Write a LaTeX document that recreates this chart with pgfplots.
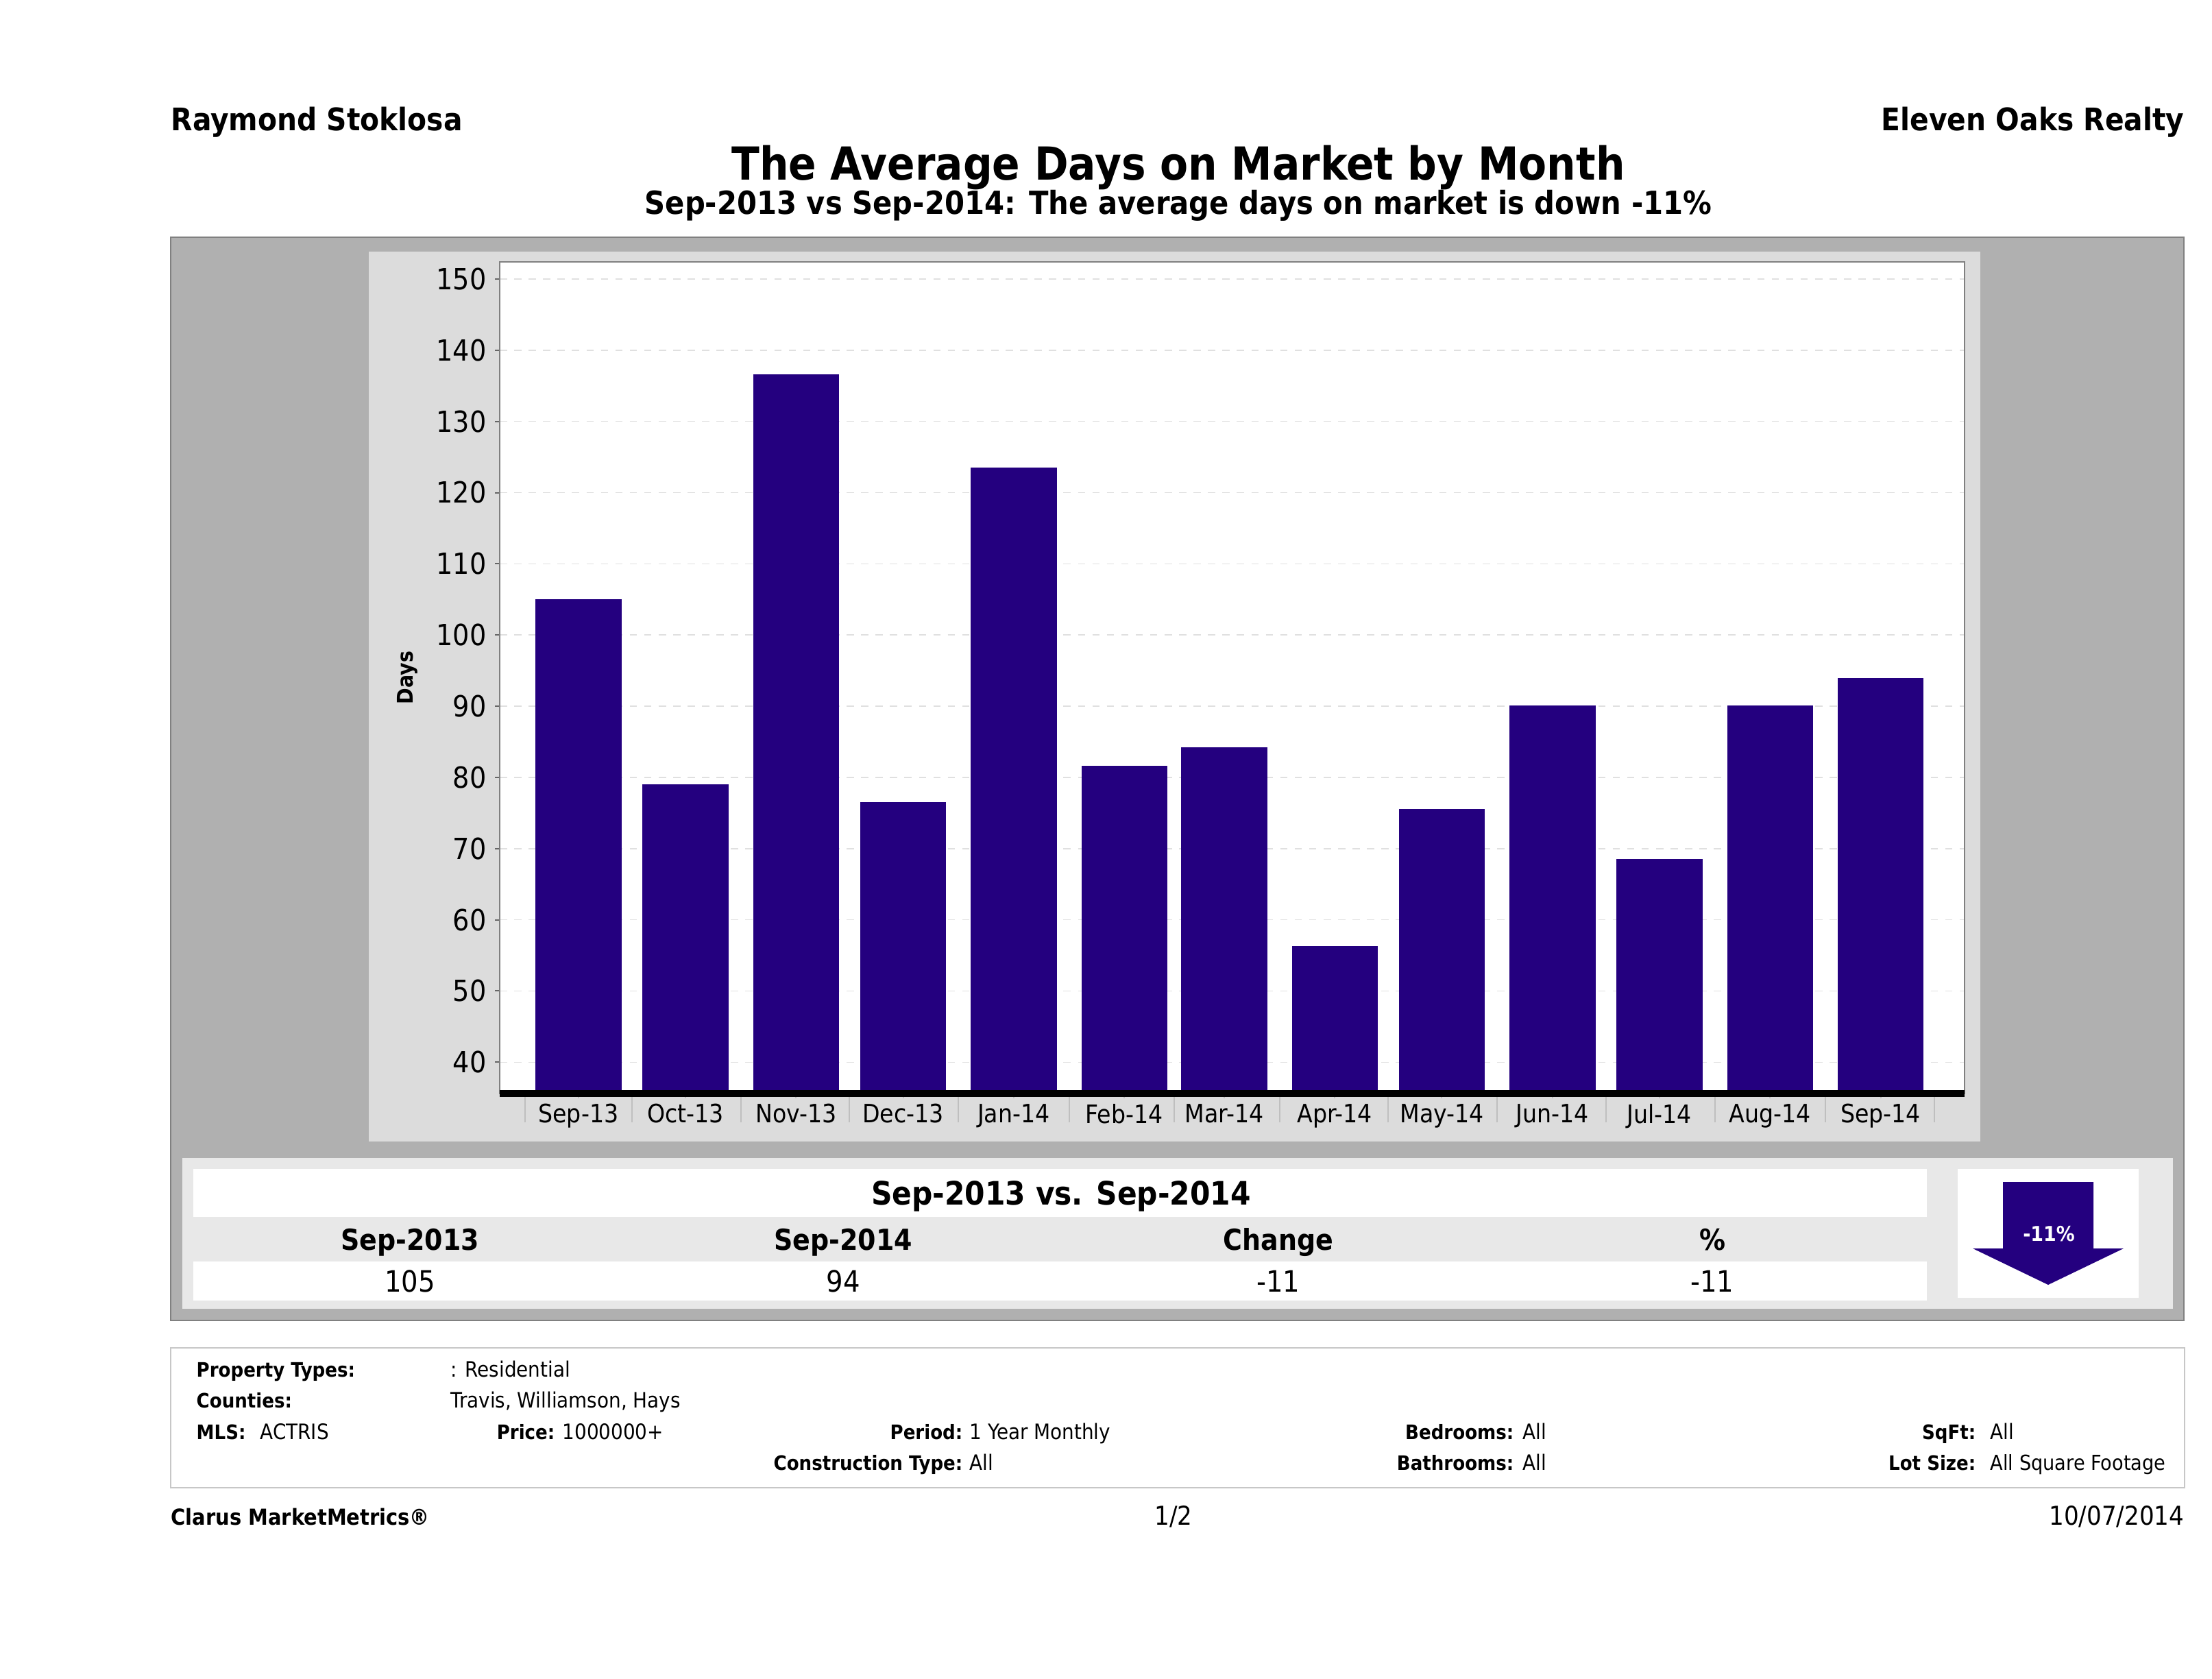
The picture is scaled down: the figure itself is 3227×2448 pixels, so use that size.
\documentclass[border=0pt]{standalone}
\usepackage{fontspec}
\setmainfont{DejaVu Sans Condensed}
\usepackage{pgfplots}
\pgfplotsset{compat=1.18}

\definecolor{barblue}{HTML}{24007F}
\definecolor{panelgray}{HTML}{B0B0B0}
\definecolor{chartgray}{HTML}{DCDCDC}
\definecolor{tablegray}{HTML}{E8E8E8}
\definecolor{gridgray}{HTML}{E0E0E0}

% sizes are given in reference pixels, 1 px = 0.1 mm = 0.2845 pt
\newcommand{\fs}[1]{\fontsize{#1}{#1}\selectfont}
% anchor, x, y, font size, text
\newcommand{\T}[5]{\node[anchor=base #1,inner sep=0pt] at (#2,#3) {\fs{#4}#5};}

\begin{document}
\begin{tikzpicture}
\begin{scope}[x=0.1mm,y=-0.1mm]
  \fill[white] (0,0) rectangle (3227,2448);
  % grey panels
  \filldraw[fill=panelgray,draw=gray,line width=0.25mm] (249,346) rectangle (3186,1926);
  \fill[chartgray] (538,367) rectangle (2889,1665);
  \fill[tablegray] (266,1689) rectangle (3170,1909);
  \fill[white] (282,1705) rectangle (2811,1775);
  \fill[white] (282,1840) rectangle (2811,1897);
  \fill[white] (2856,1705) rectangle (3120,1893);
  % arrow
  \fill[barblue] (2922,1724) -- (3054,1724) -- (3054,1821) -- (3098,1821) -- (2988,1874)
    -- (2878,1821) -- (2922,1821) -- cycle;
  \node[white,inner sep=0pt] at (2989,1800) {\fs{8.5}\bfseries -11\%};
  \coordinate (axsw) at (729,1595);
  % header
  \T{west}{249}{190}{12.9}{\bfseries Raymond Stoklosa}
  \T{east}{3187}{190}{12.9}{\bfseries Eleven Oaks Realty}
  \node[anchor=base,inner sep=0pt] at (1719,262) {\fs{18.9}\bfseries The Average Days on Market by Month};
  \node[anchor=base,inner sep=0pt] at (1719,312) {\fs{13.2}\bfseries Sep-2013 vs Sep-2014: The average days on market is down -11\%};
  % table
  \node[anchor=base,inner sep=0pt] at (1548,1757) {\fs{13.4}\bfseries Sep-2013 vs. Sep-2014};
  \T{}{598}{1823}{12}{\bfseries Sep-2013}
  \T{}{1230}{1823}{12}{\bfseries Sep-2014}
  \T{}{1865}{1823}{12}{\bfseries Change}
  \T{}{2498}{1823}{12}{\bfseries \%}
  \T{}{598}{1884}{12.2}{105}
  \T{}{1230}{1884}{12.2}{94}
  \T{}{1865}{1884}{12.2}{-11}
  \T{}{2498}{1884}{12.2}{-11}
  % selection box
  \draw[draw=black!22,line width=0.25mm] (249,1966) rectangle (3187,2170);
  \T{west}{286}{2008}{8.25}{\bfseries Property Types:}
  \T{west}{657}{2008}{8.8}{: Residential}
  \T{west}{286}{2053}{8.25}{\bfseries Counties:}
  \T{west}{657}{2053}{8.8}{Travis, Williamson, Hays}
  \T{west}{286}{2099}{8.25}{\bfseries MLS:}
  \T{west}{379}{2099}{8.8}{ACTRIS}
  \T{east}{810}{2099}{8.25}{\bfseries Price:}
  \T{west}{820}{2099}{8.8}{1000000+}
  \T{east}{1405}{2099}{8.25}{\bfseries Period:}
  \T{west}{1414}{2099}{8.8}{1 Year Monthly}
  \T{east}{2209}{2099}{8.25}{\bfseries Bedrooms:}
  \T{west}{2221}{2099}{8.8}{All}
  \T{east}{2883}{2099}{8.25}{\bfseries SqFt:}
  \T{west}{2903}{2099}{8.8}{All}
  \T{east}{1405}{2144}{8.25}{\bfseries Construction Type:}
  \T{west}{1414}{2144}{8.8}{All}
  \T{east}{2209}{2144}{8.25}{\bfseries Bathrooms:}
  \T{west}{2221}{2144}{8.8}{All}
  \T{east}{2883}{2144}{8.25}{\bfseries Lot Size:}
  \T{west}{2903}{2144}{8.6}{All Square Footage}
  % footer
  \T{west}{249}{2224}{9.15}{\bfseries Clarus MarketMetrics®}
  \T{}{1712}{2224}{10.8}{1/2}
  \T{east}{3187}{2224}{10.8}{10/07/2014}
\end{scope}

\begin{axis}[
    at={(axsw)}, anchor=south west,
    scale only axis,
    width=213.7mm, height=121.3mm,
    xmin=-22.07, xmax=388.5,
    ymin=35.6, ymax=152.4,
    ytick={40,50,60,70,80,90,100,110,120,130,140,150},
    % month starts in days from 1 Sep 2013: the bars sit on a date axis
    xtick={0,30,61,91,122,153,181,212,242,273,303,334,365},
    xticklabels={Sep-13,Oct-13,Nov-13,Dec-13,Jan-14,Feb-14,Mar-14,Apr-14,May-14,Jun-14,Jul-14,Aug-14,Sep-14},
    extra x ticks={-15,15,45.5,76,106.5,137.5,167,196.5,227,257.5,288,318.5,349.5,380},
    extra x tick labels={},
    extra x tick style={major tick length=4.2mm},
    /pgf/number format/assume math mode=true,
    major tick length=0.7mm,
    xtick pos=lower, ytick pos=left,
    x tick style={draw=black!25,line width=0.2mm},
    y tick style={draw=black!60,line width=0.2mm},
    tick align=outside,
    axis line style={draw=black!50,line width=0.25mm},
    ymajorgrids=true,
    grid style={draw=gridgray,dashed,line width=0.15mm},
    axis on top=false,
    axis background/.style={fill=white},
    yticklabel style={font=\fs{12.1}},
    xticklabel style={font=\fs{10.5},yshift=0.4mm},
    ylabel={\bfseries Days},
    ylabel style={font=\fs{9},at={(axis description cs:-0.063,0.5)},anchor=center},
    ybar, bar width=12.4mm,
]
\addplot[fill=barblue,draw=barblue,bar shift=0pt] coordinates {
    (0,105) (30,79) (61,136.5) (91,76.5) (122,123.4) (153,81.6) (181,84.2)
    (212,56.2) (242,75.5) (273,90) (303,68.5) (334,90) (365,93.9)
};
\end{axis}

\begin{scope}[x=0.1mm,y=-0.1mm]
  \draw[black,line width=1mm] (729,1595) -- (2866,1595);
\end{scope}
\end{tikzpicture}
\end{document}
